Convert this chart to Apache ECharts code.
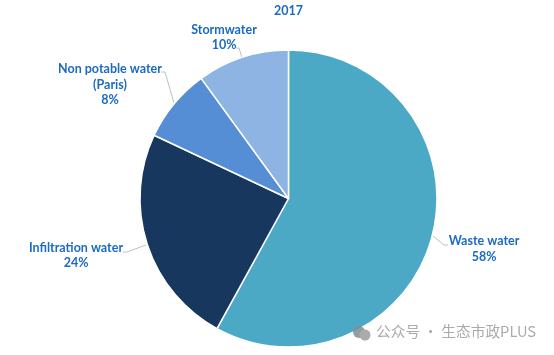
<!DOCTYPE html>
<html>
<head>
<meta charset="utf-8">
<style>
  html, body { margin: 0; padding: 0; background: #fff; }
  #myChart { width: 554px; height: 355px; }
</style>
<script src="https://cdn.jsdelivr.net/npm/echarts@6/dist/echarts.min.js"></script>
</head>
<body>
<div id="myChart"></div>
<script>
const categories = ['Waste water', 'Infiltration water', 'Non potable water\n(Paris)', 'Stormwater'];
const values = [58, 24, 8, 10];
const sliceColors = ['#4BA9C6', '#17375E', '#558ED5', '#8EB4E3'];
// where the label text sits (center of the block)
const labelSpots = [[484, 249], [76, 255.5], [110, 84.5], [224, 37.5]];
// leader lines, from the label to the slice edge
const leaderLines = [
  [[448, 245], [444, 245], [433, 236]],
  [[123, 252], [127, 252], [146, 245]],
  [[161, 72], [165, 72], [174, 103]],
  [[236, 48], [239, 48], [242, 58]]
];

const myChart = echarts.init(document.getElementById('myChart'), null, { renderer: 'canvas' });

const option = {
  animation: false,
  title: {
    text: '2017',
    left: 269,
    top: -1,
    textStyle: { color: '#1B6AC4', fontSize: 12.5, fontWeight: 'bold', fontFamily: 'Lato' }
  },
  series: [{
    type: 'pie',
    center: [288.5, 198.5],
    radius: [0, 148.5],
    startAngle: 90,
    clockwise: true,
    data: categories.map((name, i) => ({ name, value: values[i], itemStyle: { color: sliceColors[i] } })),
    itemStyle: { borderColor: '#fff', borderWidth: 1.5 },
    label: {
      show: true,
      position: 'outside',
      formatter: '{b}\n{c}%',
      color: '#1B6AC4',
      fontSize: 12.5,
      lineHeight: 15.5,
      fontWeight: 'bold',
      fontFamily: 'Lato',
      align: 'center',
      verticalAlign: 'middle',
      overflow: 'none'
    },
    labelLine: {
      show: true,
      lineStyle: { color: '#BFBFBF', width: 1 }
    },
    labelLayout: (params) => ({
      x: labelSpots[params.dataIndex][0],
      y: labelSpots[params.dataIndex][1],
      align: 'center',
      verticalAlign: 'middle',
      labelLinePoints: leaderLines[params.dataIndex]
    })
  }],
  graphic: [
    { type: 'circle', z: 100, shape: { cx: 359, cy: 332, r: 6 }, style: { fill: '#7F8C90', opacity: 0.85 } },
    { type: 'circle', z: 101, shape: { cx: 365, cy: 335, r: 5.5 }, style: { fill: '#ABABAB' } },
    {
      type: 'text',
      z: 100,
      left: 376,
      top: 324,
      style: {
        text: '公众号 · 生态市政PLUS',
        fill: '#ABABAB',
        fontSize: 14.7,
        fontFamily: 'Noto Sans CJK SC'
      }
    }
  ]
};

myChart.setOption(option);
</script>
</body>
</html>
